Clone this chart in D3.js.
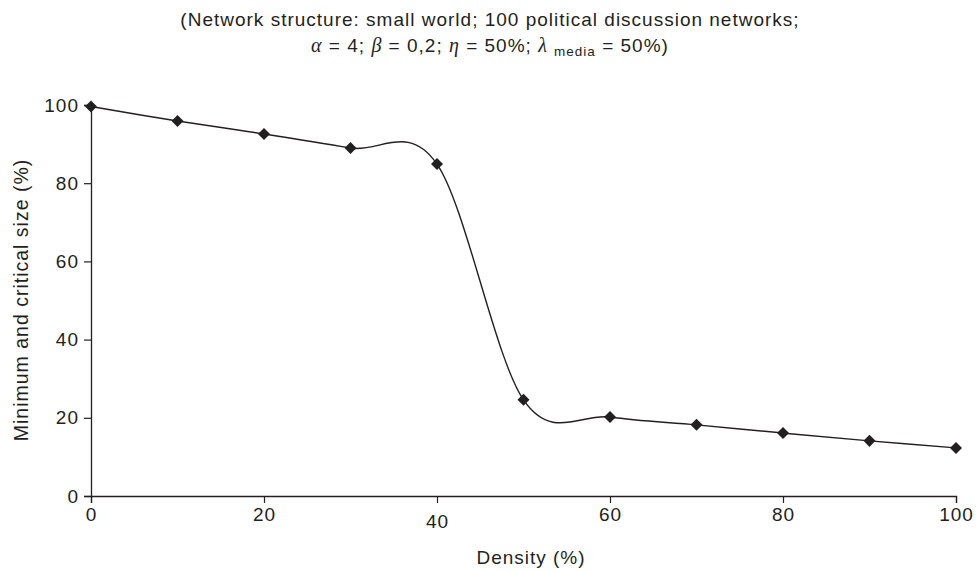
<!DOCTYPE html>
<html><head><meta charset="utf-8">
<script src="https://cdn.jsdelivr.net/npm/d3@7"></script>
<style>
body{margin:0;background:#fff;}
text{font-family:"Liberation Sans",Arial,sans-serif;fill:#231f20;letter-spacing:1px;}
</style></head>
<body><svg id="c" width="980" height="572"></svg>
<script>
const density = [0,10,20,30,40,50,60,70,80,90,100];
const sizeValues = [99.6,95.9,92.6,89.0,84.9,24.6,20.2,18.2,16.1,14.1,12.3];
const xTicks = [0,20,40,60,80,100];
const yTicks = [0,20,40,60,80,100];

const svg = d3.select("#c");
const x = d3.scaleLinear().domain([0,100]).range([91,956]);
const y = d3.scaleLinear().domain([0,100]).range([496,105]);
const ink = "#231f20";

// title
const t = svg.append("g").attr("font-size",19).attr("text-anchor","middle");
t.append("text").attr("x",490).attr("y",26).text("(Network structure: small world; 100 political discussion networks;");
const l2 = t.append("text").attr("x",490).attr("y",52);
const gr = (s)=>l2.append("tspan").attr("font-family","'Liberation Serif',serif").attr("font-style","italic").attr("font-size",20).text(s);
gr("α"); l2.append("tspan").text(" = 4; ");
gr("β"); l2.append("tspan").text(" = 0,2; ");
gr("η"); l2.append("tspan").text(" = 50%; ");
gr("λ"); l2.append("tspan").text(" ");
l2.append("tspan").attr("font-size",13.5).attr("dy",4).text("media");
l2.append("tspan").attr("dy",-4).text(" = 50%)");

// axes
const yAxis = svg.append("g").attr("transform","translate(91,0)")
  .call(d3.axisLeft(y).tickValues(yTicks).tickSize(7).tickPadding(5));
const xAxis = svg.append("g").attr("transform","translate(0,496)")
  .call(d3.axisBottom(x).tickValues(xTicks).tickSize(7).tickPadding(5));
[yAxis,xAxis].forEach(g=>{
  g.select(".domain").attr("stroke",ink).attr("stroke-width",1.3);
  g.selectAll(".tick line").attr("stroke",ink).attr("stroke-width",1.2);
  g.selectAll("text").attr("font-size",19).attr("fill",ink).attr("font-family","'Liberation Sans',Arial,sans-serif");
});
xAxis.selectAll(".tick text").filter(d=>d===40).attr("dy","1.05em");

// axis titles
svg.append("text").attr("x",531).attr("y",564).attr("text-anchor","middle").attr("font-size",19).text("Density (%)");
svg.append("text").attr("transform","translate(28,300) rotate(-90)").attr("text-anchor","middle").attr("font-size",19.5).text("Minimum and critical size (%)");

// line
const data = density.map((d,i)=>({x:d,y:sizeValues[i]}));
svg.append("path").datum(data)
  .attr("fill","none").attr("stroke",ink).attr("stroke-width",1.4)
  .attr("d", d3.line().x(d=>x(d.x)).y(d=>y(d.y)).curve(d3.curveCardinal.tension(0)));

// markers
svg.append("g").selectAll("path").data(data).join("path")
  .attr("transform",d=>`translate(${x(d.x)},${y(d.y)})`)
  .attr("d", d3.symbol(d3.symbolDiamond2, 92))
  .attr("fill",ink);
</script></body></html>
